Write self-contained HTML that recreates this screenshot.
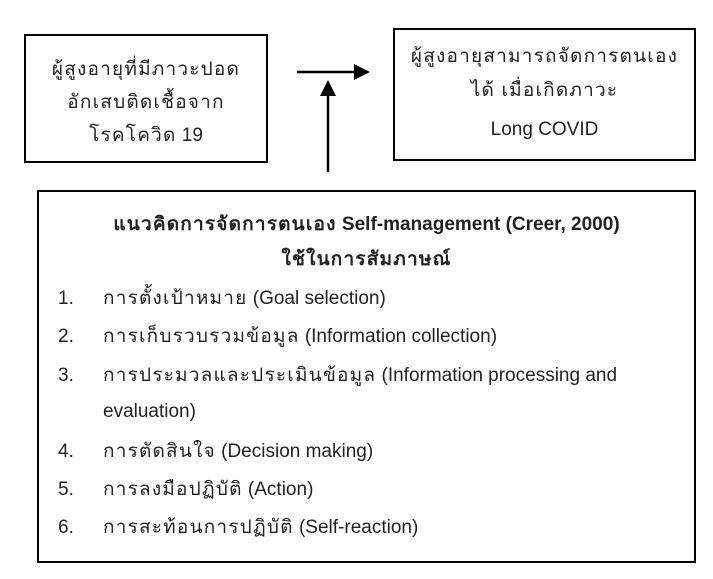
<!DOCTYPE html>
<html><head><meta charset="utf-8"><style>
body{margin:0;width:713px;height:579px;background:#fff;position:relative;font-family:"Liberation Sans","DejaVu Sans",sans-serif;color:#222;overflow:hidden}
.b{position:absolute;border:2px solid #000;box-sizing:border-box}
.t{position:absolute;font-size:19px;white-space:nowrap;line-height:22px}
.th{letter-spacing:1.2px}
</style></head><body>
<div class="b" style="left:24px;top:34px;width:244px;height:129px"></div>
<div class="t th" style="left:24px;width:244px;text-align:center;top:59px">ผู้สูงอายุที่มีภาวะปอด</div>
<div class="t th" style="left:24px;width:244px;text-align:center;top:92px">อักเสบติดเชื้อจาก</div>
<div class="t" style="left:24px;width:244px;text-align:center;top:125px"><span class="th">โรคโควิด</span> 19</div>
<div class="b" style="left:393px;top:28px;width:303px;height:133px"></div>
<div class="t th" style="left:393px;width:303px;text-align:center;top:46px">ผู้สูงอายุสามารถจัดการตนเอง</div>
<div class="t th" style="left:393px;width:303px;text-align:center;top:80px">ได้ เมื่อเกิดภาวะ</div>
<div class="t" style="left:393px;width:303px;text-align:center;top:119px">Long COVID</div>
<svg style="position:absolute;left:0;top:0" width="713" height="579">
<line x1="297" y1="72" x2="358" y2="72" stroke="#000" stroke-width="2.5"/>
<polygon points="370,72 354,64 354,80" fill="#000"/>
<line x1="328" y1="172" x2="328" y2="92" stroke="#000" stroke-width="2.5"/>
<polygon points="328,80 320,96 336,96" fill="#000"/>
</svg>
<div class="b" style="left:37px;top:190px;width:659px;height:373px"></div>
<div class="t" style="left:37px;width:659px;text-align:center;top:214px;font-weight:bold"><span class="th">แนวคิดการจัดการตนเอง</span> Self-management (Creer, 2000)</div>
<div class="t th" style="left:37px;width:659px;text-align:center;top:249px;font-weight:bold">ใช้ในการสัมภาษณ์</div>
<div class="t" style="left:58px;top:288px">1.</div><div class="t" style="left:103px;top:288px"><span class="th">การตั้งเป้าหมาย</span> (Goal selection)</div>
<div class="t" style="left:58px;top:326px">2.</div><div class="t" style="left:103px;top:326px"><span class="th">การเก็บรวบรวมข้อมูล</span> (Information collection)</div>
<div class="t" style="left:58px;top:365px">3.</div><div class="t" style="left:103px;top:365px"><span class="th">การประมวลและประเมินข้อมูล</span> (Information processing and</div>
<div class="t" style="left:103px;top:401px">evaluation)</div>
<div class="t" style="left:58px;top:441px">4.</div><div class="t" style="left:103px;top:441px"><span class="th">การตัดสินใจ</span> (Decision making)</div>
<div class="t" style="left:58px;top:479px">5.</div><div class="t" style="left:103px;top:479px"><span class="th">การลงมือปฏิบัติ</span> (Action)</div>
<div class="t" style="left:58px;top:517px">6.</div><div class="t" style="left:103px;top:517px"><span class="th">การสะท้อนการปฏิบัติ</span> (Self-reaction)</div>
</body></html>
